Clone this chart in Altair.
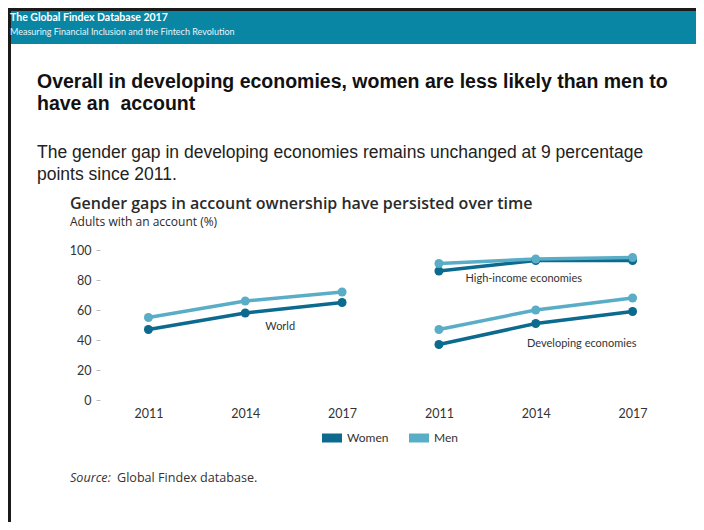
import altair as alt
import pandas as pd

# ---- data ----
years = ["2011", "2014", "2017"]
groups = ["World", "High-income economies", "Developing economies"]
panels = ["A", "B", "B"]  # World on the left, the two economy groups share the right panel
women = {
    "World": [47, 58, 65],
    "High-income economies": [86, 93, 93],
    "Developing economies": [37, 51, 59],
}
men = {
    "World": [55, 66, 72],
    "High-income economies": [91, 94, 95],
    "Developing economies": [47, 60, 68],
}
genders = ["Women", "Men"]
gender_colors = ["#0b6a8e", "#5aadc7"]

rows = []
for gname, series in (("Women", women), ("Men", men)):
    for g, p in zip(groups, panels):
        for yr, v in zip(years, series[g]):
            rows.append({"key": f"{p}|{yr}", "group": g, "gender": gname, "value": v})
df = pd.DataFrame(rows)
x_domain = [f"{p}|{yr}" for p in ["A", "B"] for yr in years]

FONT = "Lato"
CFONT = "Open Sans"
HEAD = "Liberation Sans"

x_scale = alt.Scale(type="point", domain=x_domain, padding=0.5)
y_scale = alt.Scale(domain=[0, 100], nice=False)
x_axis = alt.Axis(title=None, labelExpr="split(datum.label, '|')[1]", ticks=False,
                  domain=False, labelAngle=0, labelFont=FONT, labelFontSize=12.5,
                  labelColor="#333", labelPadding=7, grid=False)
y_axis = alt.Axis(title=None, values=[0, 20, 40, 60, 80, 100], tickSize=4, labelOverlap=False,
                  tickColor="#bbbbbb", domain=False, grid=False, labelFont=FONT,
                  labelFontSize=12.5, labelColor="#333", labelPadding=5)
legend = alt.Legend(title=None, orient="none", legendX=222, legendY=178,
                    direction="horizontal",
                    symbolType="M-1,-0.45L1,-0.45L1,0.45L-1,0.45Z",
                    symbolSize=400, symbolStrokeWidth=0, symbolOpacity=1,
                    labelFont=FONT, labelFontSize=12, labelColor="#333",
                    labelOffset=5, columnPadding=20, padding=0)
color_enc = alt.Color("gender:N", scale=alt.Scale(domain=genders, range=gender_colors), legend=legend)

base = alt.Chart(df)
lines = base.mark_line(strokeWidth=3.5).encode(
    x=alt.X("key:N", scale=x_scale, axis=x_axis),
    y=alt.Y("value:Q", scale=y_scale, axis=y_axis),
    color=color_enc, detail="group:N")
points = base.mark_point(filled=True, size=80, opacity=1).encode(
    x=alt.X("key:N", scale=x_scale, axis=x_axis),
    y=alt.Y("value:Q", scale=y_scale, axis=y_axis),
    color=color_enc, detail="group:N")

one = alt.Data(values=[{}])


def txt(text, x, y, size, font=FONT, weight="normal", style="normal", color="#222", align="left"):
    return alt.Chart(one).mark_text(text=text, font=font, fontSize=size, fontWeight=weight,
                                    fontStyle=style, color=color, align=align,
                                    baseline="alphabetic").encode(x=alt.value(x), y=alt.value(y))


def box(x, x2, y, y2, color):
    return alt.Chart(one).mark_rect(color=color).encode(
        x=alt.value(x), x2=alt.value(x2), y=alt.value(y), y2=alt.value(y2))


# annotations anchored on the data scales
ann_labels = ["World", "High-income economies", "Developing economies"]
ann_keys = ["A|2014", "B|2014", "B|2014"]
ann_vals = [49, 80.5, 37.3]
ann_dx = [35, -12, 46]
ann_layers = []
for lab, k, v, dx in zip(ann_labels, ann_keys, ann_vals, ann_dx):
    ann_layers.append(
        alt.Chart(pd.DataFrame({"key": [k], "value": [v], "label": [lab]}))
        .mark_text(font=FONT, fontSize=11, color="#333", dx=dx, align="center", baseline="middle")
        .encode(x=alt.X("key:N", scale=x_scale, axis=x_axis),
                y=alt.Y("value:Q", scale=y_scale, axis=y_axis), text="label:N"))

deco = [
    box(-89, 596, -239, -206, "#0a86a5"),
    box(-92, -89, -242, 272, "#1a1a1a"),
    box(-92, 596, -242, -239, "#1a1a1a"),
    txt("The Global Findex Database 2017", -90, -229, 10.5, weight="bold", color="#ffffff"),
    txt("Measuring Financial Inclusion and the Fintech Revolution", -90, -215, 9, color="#e8f4f8"),
    txt("Overall in developing economies, women are less likely than men to", -63, -162, 19.5,
        font=HEAD, weight="bold", color="#111"),
    txt("have an\u00a0 account", -63, -140, 19.5, font=HEAD, weight="bold", color="#111"),
    txt("The gender gap in developing economies remains unchanged at 9 percentage", -63, -92, 17.5,
        font=HEAD, color="#222"),
    txt("points since 2011.", -63, -70, 17.5, font=HEAD, color="#222"),
    txt("Gender gaps in account ownership have persisted over time", -30, -41, 16, font=CFONT,
        weight=600, color="#2a2a2a"),
    txt("Adults with an account (%)", -30, -24, 12, font=CFONT, color="#2a2a2a"),
    txt("Source:", -30, 232, 12.6, font=CFONT, style="italic", color="#333"),
    txt("Global Findex database.", 17, 232, 12.6, font=CFONT, color="#333"),
]

chart = alt.layer(*deco, lines, points, *ann_layers).properties(
    width=581, height=150,
    background="white",
    autosize=alt.AutoSizeParams(type="none"),
    padding={"left": 92, "top": 242, "right": 15, "bottom": 122},
).configure_view(strokeWidth=0, stroke="transparent")

chart.save("out.html", embed_options={"renderer": "svg", "actions": False})
